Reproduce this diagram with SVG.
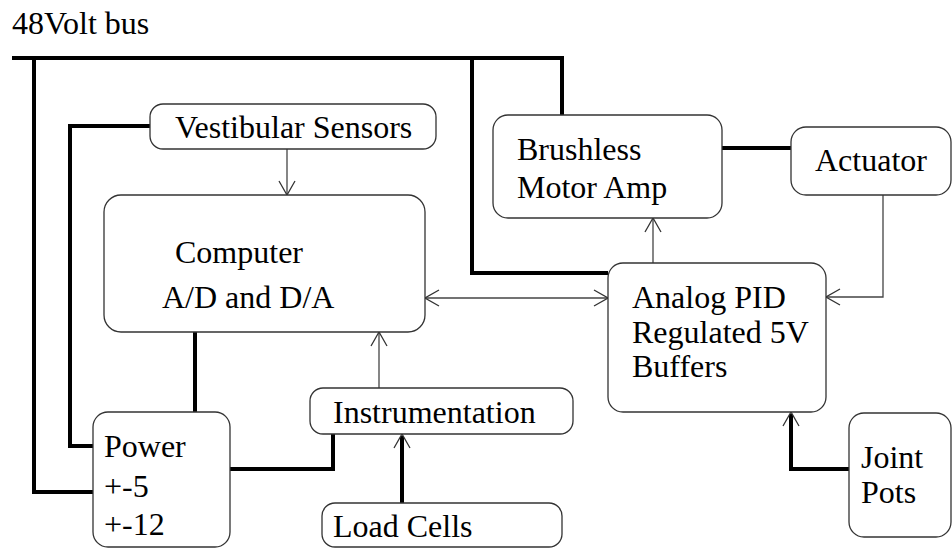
<svg xmlns="http://www.w3.org/2000/svg" width="952" height="548" viewBox="0 0 952 548">
<style>
.box{fill:#fff;stroke:#333;stroke-width:1.3}
text{font-family:'Liberation Serif','DejaVu Serif','Times New Roman',serif;font-size:32px;fill:#000}
.thick{fill:none;stroke:#000;stroke-width:4}
.thin{fill:none;stroke:#444;stroke-width:1.3}
</style>
<defs>
<marker id="arr" viewBox="0 0 16 18" refX="15" refY="9" markerWidth="16" markerHeight="18" markerUnits="userSpaceOnUse" orient="auto-start-reverse">
<path d="M1,1 L15,9 L1,17" fill="none" stroke="#333" stroke-width="1.3"/>
</marker>
</defs>
<rect width="952" height="548" fill="#fff"/>
<text x="12" y="34">48Volt bus</text>
<g id="connectors">
<path class="thick" d="M12,58 H562 V115"/>
<path class="thick" d="M34,58 V492 H93"/>
<path class="thick" d="M472,58 V273 H608"/>
<path class="thick" d="M150,126 H70 V446 H93"/>
<path class="thick" d="M195,332 V412"/>
<path class="thick" d="M230,469 H333 V434"/>
<path class="thick" d="M722,148 H791"/>
<path class="thick" d="M849,469 H791 V414"/>
<path class="thick" d="M402,503 V436"/>
<path d="M791,430 V412" fill="none" stroke="none" marker-end="url(#arr)"/>
<path d="M402,450 V434" fill="none" stroke="none" marker-end="url(#arr)"/>
<path class="thin" d="M287,149 V195" marker-end="url(#arr)"/>
<path class="thin" d="M379,388 V332" marker-end="url(#arr)"/>
<path class="thin" d="M425,298 H608" marker-start="url(#arr)" marker-end="url(#arr)"/>
<path class="thin" d="M653,263 V218" marker-end="url(#arr)"/>
<path class="thin" d="M883,195 V297 H826" marker-end="url(#arr)"/>
</g>
<g id="vestibular"><rect class="box" x="150" y="104" width="286" height="45" rx="13"/><text x="175" y="138">Vestibular Sensors</text></g>
<g id="computer"><rect class="box" x="104" y="195" width="321" height="137" rx="17"/><text x="175" y="263">Computer</text><text x="162" y="308">A/D and D/A</text></g>
<g id="power"><rect class="box" x="93" y="412" width="137" height="135" rx="15"/><text x="104" y="457">Power</text><text x="104" y="497">+-5</text><text x="104" y="535">+-12</text></g>
<g id="instrumentation"><rect class="box" x="310" y="388" width="263" height="46" rx="13"/><text x="333" y="423">Instrumentation</text></g>
<g id="loadcells"><rect class="box" x="322" y="503" width="240" height="44" rx="13"/><text x="333" y="537">Load Cells</text></g>
<g id="brushless"><rect class="box" x="493" y="115" width="229" height="103" rx="15"/><text x="517" y="160">Brushless</text><text x="517" y="198">Motor Amp</text></g>
<g id="actuator"><rect class="box" x="791" y="127" width="160" height="68" rx="15"/><text x="815" y="171">Actuator</text></g>
<g id="analogpid"><rect class="box" x="608" y="263" width="218" height="149" rx="15"/><text x="632" y="308">Analog PID</text><text x="632" y="343">Regulated 5V</text><text x="632" y="377">Buffers</text></g>
<g id="jointpots"><rect class="box" x="849" y="413" width="102" height="124" rx="15"/><text x="861" y="468">Joint</text><text x="861" y="503">Pots</text></g>
</svg>
